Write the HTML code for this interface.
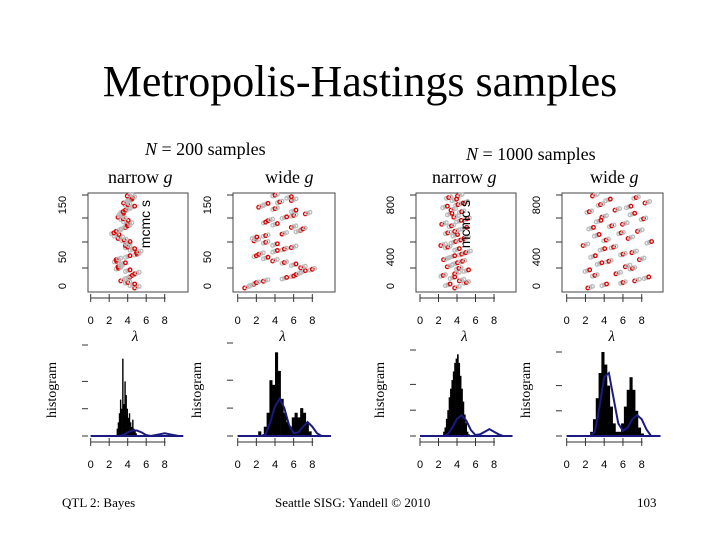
<!DOCTYPE html>
<html><head><meta charset="utf-8"><style>
body{margin:0;background:#fff;}
#s{position:relative;width:720px;height:540px;overflow:hidden;font-family:"Liberation Serif",serif;}
.t{position:absolute;white-space:nowrap;color:#000;}
</style></head><body>
<div id="s">
<div class="t" style="left:0;width:720px;text-align:center;top:56px;font-size:44px;">Metropolis-Hastings samples</div>
<div class="t" style="left:145px;top:139px;font-size:18px;"><i>N</i> = 200 samples</div>
<div class="t" style="left:108px;top:167px;font-size:18px;">narrow <i>g</i></div>
<div class="t" style="left:265px;top:167px;font-size:18px;">wide <i>g</i></div>
<div class="t" style="left:466px;top:144px;font-size:18px;"><i>N</i> = 1000 samples</div>
<div class="t" style="left:432px;top:167px;font-size:18px;">narrow <i>g</i></div>
<div class="t" style="left:590px;top:167px;font-size:18px;">wide <i>g</i></div>
<div class="t" style="left:62px;top:495px;font-size:13px;">QTL 2: Bayes</div>
<div class="t" style="left:275px;top:495px;font-size:13px;">Seattle SISG: Yandell © 2010</div>
<div class="t" style="left:637px;top:495px;font-size:13px;">103</div>
<svg id="g" width="720" height="540" style="position:absolute;left:0;top:0"></svg>
</div>
<script>
const traceA=[5,4.5,4,3.5,4,4.5,5,4,3,3.2,3.5,2.8,3,4,5,5.2,4.5,4,4,4,3.6,3.2,2.8,2.5,3,3.5,4,4.2,3.8,3.5,3.2,3.3,3.5,4,4.5,4,3.8,4.2,4.5,4.2];
const traceB=[1,1.5,2,3,5,6,6.5,7,8,7,6,5,4,3,2,2.5,4,5,6,4,3,2,1.8,3,5,6.5,7,6,4,3,3.5,5,6,7.5,6,4,2.5,3,4.5,6,5.5,4];
const traceC=[4,3,5,4.5,3.5,2.5,4,5,4.2,3.2,3.8,4.6,2.8,3.5,4.5,5.2,4,3,2.5,3.6,4.4,5,3.8,3,4,4.8,3.4,2.6,4.2,5.1,3.9,3.2,4.5,3.6,2.7,4.1,4.9,3.7,3.1,4.3];
const traceD=[2.5,4,6,7.5,8.5,3,5.5,2.2,7,6.5,3.5,4.5,8,2.8,6,7.2,3.8,5,2,8.8,4.2,6.8,3.2,5.8,7.8,2.6,4.8,6.2,3.4,8.2,4,7,2.4,5.4,6.6,3.6,8.6,4.4,7.4,3];
const histStart=[2.8,2.2,2.5,2.5], histStep=[0.12,0.3,0.15,0.3];
const histA=[8,15,25,40,30,85,35,60,45,30,20,25,15,10,18,8,5,3,0,0];
const histB=[5,0,10,25,60,55,90,70,40,25,15,10,20,25,20,30,25,15,5,0];
const histC=[5,10,20,30,45,55,65,75,85,90,95,85,70,55,40,25,15,5,2,0];
const histD=[5,20,45,75,100,85,60,35,15,5,5,15,35,55,70,55,30,10,3,0];
const densA=[0,0,0,0,0,0,0,0.01,0.04,0.06,0.06,0.04,0.01,0,0.01,0.02,0.03,0.02,0.01,0,0];
const densB=[0,0,0,0,0,0,0.02,0.15,0.32,0.4,0.3,0.12,0.03,0.04,0.1,0.15,0.1,0.03,0,0,0];
const densC=[0,0,0,0,0,0,0.02,0.1,0.2,0.24,0.18,0.07,0.01,0.02,0.05,0.08,0.05,0.02,0,0,0];
const densD=[0,0,0,0,0,0,0.05,0.35,0.7,0.75,0.45,0.15,0.06,0.1,0.2,0.25,0.2,0.08,0,0,0];
const yTicksA=["0","50","150"], yTicksC=["0","400","800"];
const xTicks=["0","2","4","6","8"];
const NS="http://www.w3.org/2000/svg", svg=document.getElementById('g');
function el(t,a,p){const e=document.createElementNS(NS,t);for(const k in a)e.setAttribute(k,a[k]);(p||svg).appendChild(e);return e;}
function panel(x0,x8,bx0,bx1,trace,hist,h0,hs,dens,yt,histTop,name){
  const sx=v=>x0+(x8-x0)*v/8;
  const g=el('g',{});
  
  
  const r=el('rect',{x:bx0,y:193,width:bx1-bx0,height:99,fill:'none',stroke:'#444','stroke-width':1},g);
  
  const n=trace.length;
  trace.forEach((v,i)=>{
    const y=288-i*(92/(n-1));
    for(let k=0;k<3;k++){
      const c=el('circle',{cx:sx(v+(k-1)*0.25),cy:y-k*0.8,r:1.8,fill:'none',stroke:(i+k)%3==0?'#d00':'#bbb','stroke-width':1.3},g);
      
    }
  });
  [268,242,218,195].forEach(y=>el('line',{x1:bx0-6,x2:bx0,y1:y,y2:y,stroke:'#333'},g));
  const ypos=[286,257,205];
  yt.forEach((t,i)=>{const tx=el('text',{x:bx0-22,y:ypos[i],'font-family':'Liberation Sans,sans-serif','font-size':11,transform:`rotate(-90 ${bx0-22} ${ypos[i]})`,'text-anchor':'middle'},g);tx.textContent=t;});
  [[298,320],[442,464]].forEach(([ay,ly])=>{
    el('line',{x1:sx(0),x2:sx(8)+1,y1:ay,y2:ay,stroke:'#333'},g);
    xTicks.forEach(t=>{const xx=sx(+t);el('line',{x1:xx,x2:xx,y1:ay-4,y2:ay+4,stroke:'#333'},g);
      const tx=el('text',{x:xx,y:ly+4,'text-anchor':'middle','font-family':'Liberation Sans,sans-serif','font-size':11},g);tx.textContent=t;});
  });
  const lam=el('text',{x:sx(4.8),y:341,'font-size':15,'font-style':'italic','text-anchor':'middle','font-family':'Liberation Serif,serif'},g);lam.textContent='λ';
  const hb=436,hh=hb-histTop;
  const hx=el('text',{x:bx0-32,y:390,'font-size':14,'text-anchor':'middle','font-family':'Liberation Serif,serif',transform:`rotate(-90 ${bx0-32} 390)`},g);hx.textContent='histogram';
  
  [hb,hb-hh*0.3,hb-hh*0.6,histTop].forEach(y=>el('line',{x1:bx0-6,x2:bx0,y1:y,y2:y,stroke:'#333'},g));
  hist.forEach((h,i)=>{
    const lv=h0+i*hs;
    const b=el('rect',{x:sx(lv),y:hb-hh*h/100,width:(x8-x0)/8*hs+0.3,height:hh*h/100,fill:'#000'},g);
    
  });
  el('line',{x1:sx(0),x2:sx(10),y1:hb,y2:hb,stroke:'#1a1a80','stroke-width':2},g);
  const pts=dens.map((d,i)=>sx(i*0.5)+','+(hb-d*hh)).join(' ');
  const pl=el('polyline',{points:pts,fill:'none',stroke:'#1a1a80','stroke-width':2},g);
  
}
panel(90.7,164.7,88,188,traceA,histA,histStart[0],histStep[0],densA,yTicksA,345,'panel-n200-narrow');
panel(237.7,312.3,233,335,traceB,histB,histStart[1],histStep[1],densB,yTicksA,343,'panel-n200-wide');
panel(420,494,416,516,traceC,histC,histStart[2],histStep[2],densC,yTicksC,350,'panel-n1000-narrow');
panel(566.7,641.7,562,663,traceD,histD,histStart[3],histStep[3],densD,yTicksC,352,'panel-n1000-wide');
[[150,200],[470,200]].forEach(([x,y])=>{const t=el('text',{x:x,y:y,'font-family':'Liberation Sans,sans-serif','font-size':14,transform:`rotate(-90 ${x} ${y})`,'text-anchor':'end'});t.textContent='mcmc s';});
</script>
</body></html>
